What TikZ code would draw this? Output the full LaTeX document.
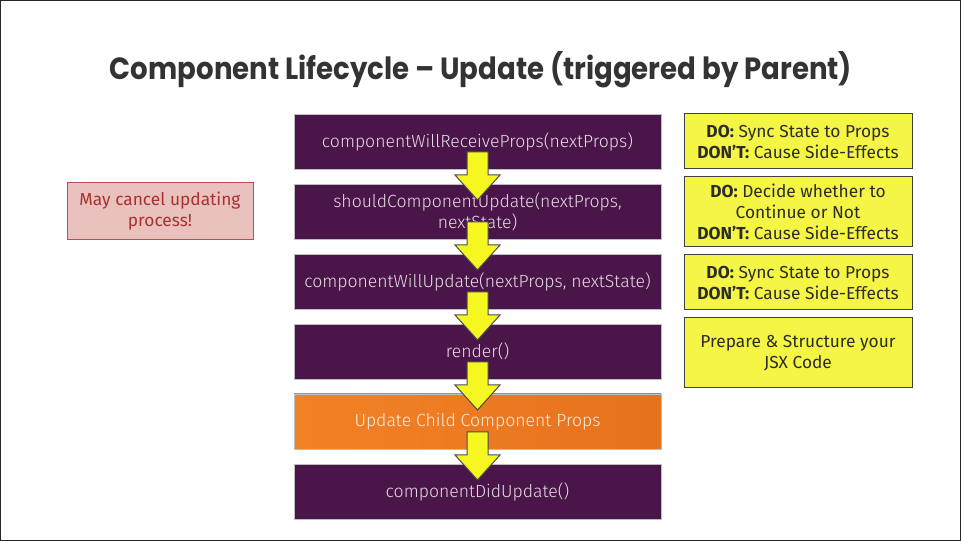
\documentclass[tikz,border=0pt]{standalone}
\usepackage{fontspec}
\setmainfont{Fira Sans}[UprightFont=* Light, BoldFont=* Bold]
\newfontfamily\noteface{Fira Sans}[BoldFont=* Bold]
\newfontfamily\titlefont{Poppins}[UprightFont=* Bold]
\usepackage{tikz}
\usetikzlibrary{positioning, calc}
\definecolor{lifepurple}{RGB}{74,21,72}
\definecolor{lifeorange}{RGB}{242,130,38}
\definecolor{lifeorangedark}{RGB}{230,114,28}
\definecolor{noteyellow}{RGB}{245,245,70}
\definecolor{arrowyellow}{RGB}{246,246,32}
\definecolor{cancelfill}{RGB}{233,193,189}
\definecolor{cancelred}{RGB}{168,50,50}
\definecolor{notetext}{RGB}{45,45,40}

\begin{document}
\begin{tikzpicture}[
    x=0.75pt, y=-0.75pt,
    node distance=11.25pt and 17.25pt,
    hook/.style={rectangle, draw=black!25, line width=0.6pt, outer sep=0pt, fill=lifepurple, text=white!85!lifepurple, minimum width=275.25pt, minimum height=41.25pt, align=center, inner sep=2pt, font=\fontsize{13.2}{15.75}\selectfont},
    childprops/.style={hook, left color=lifeorange, right color=lifeorangedark, text=white!85!lifeorange},
    note/.style={rectangle, draw=black!75, line width=0.75pt, outer sep=0pt, fill=noteyellow, text=notetext, minimum width=171pt, minimum height=41.25pt, align=center, inner sep=2pt, font=\noteface\fontsize{13}{15.75}\selectfont},
    cancel/.style={rectangle, draw=cancelred!85, line width=0.75pt, outer sep=0pt, fill=cancelfill, text=cancelred, minimum width=139.5pt, minimum height=42.75pt, align=center, font=\noteface\fontsize{13}{15.75}\selectfont},
    flow/.style={fill=arrowyellow, draw=black!70, line width=0.75pt, line join=miter}
]
\useasboundingbox (0,0) rectangle (961,541);
\draw[black!85, line width=1pt] (0.5,0.5) rectangle (960.5,540.5);

\node[font=\titlefont\fontsize{23}{28}\selectfont, text=black!80] (title) at (481,70) {\scalebox{0.9}[1]{Component Lifecycle – Update (triggered by Parent)}};

% lifecycle hooks
\node[hook] (willreceive) at (477.5,141.5) {componentWillReceiveProps(nextProps)};
\node[hook, below=of willreceive] (shouldupdate) {shouldComponentUpdate(nextProps,\\ nextState)};
\node[hook, below=of shouldupdate] (willupdate) {componentWillUpdate(nextProps, nextState)};
\node[hook, below=of willupdate] (render) {render()};
\node[childprops, below=of render] (childupdate) {Update Child Component Props};
\node[hook, below=of childupdate] (didupdate) {componentDidUpdate()};

% yellow block arrows
\foreach \a/\b in {willreceive/shouldupdate, shouldupdate/willupdate, willupdate/render, render/childupdate, childupdate/didupdate}
  \draw[flow] ($(\a.south)+(-10.5,-17)$) -- ($(\a.south)+(10.5,-17)$) -- ($(\b.north)+(10.5,-9)$) -- ($(\b.north)+(22.5,-9)$) -- ($(\b.north)+(0,16)$) -- ($(\b.north)+(-22.5,-9)$) -- ($(\b.north)+(-10.5,-9)$) -- cycle;

% notes
\node[note, right=of willreceive] (dosync) {\textbf{DO:} Sync State to Props\\ \textbf{DON’T:} Cause Side-Effects};
\node[note, minimum height=52.5pt, below=6pt of dosync] (dodecide) {\textbf{DO:} Decide whether to\\ Continue or Not\\ \textbf{DON’T:} Cause Side-Effects};
\node[note, below=6pt of dodecide] (dosync2) {\textbf{DO:} Sync State to Props\\ \textbf{DON’T:} Cause Side-Effects};
\node[note, minimum height=52.5pt, below=6pt of dosync2] (prepare) {Prepare \& Structure your\\ JSX Code};

\node[cancel, left=30.75pt of shouldupdate] (maycancel) {May cancel updating\\ process!};
\end{tikzpicture}
\end{document}
